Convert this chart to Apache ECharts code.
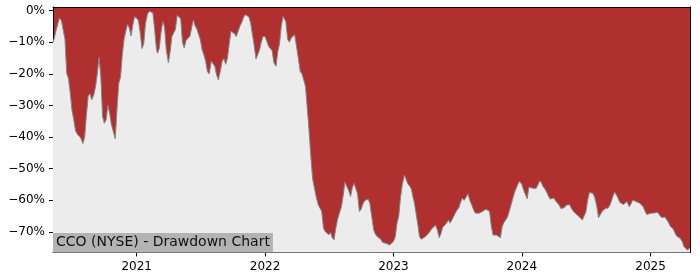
<!DOCTYPE html>
<html>
<head>
<meta charset="utf-8">
<script src="https://cdn.jsdelivr.net/npm/echarts@6/dist/echarts.min.js"></script>
<style>html,body{margin:0;padding:0;background:#fff;}#c{width:700px;height:280px;}</style>
</head>
<body>
<div id="c"></div>
<script>
const chartTitle = 'CCO (NYSE) - Drawdown Chart';
const yTicks = [0, -10, -20, -30, -40, -50, -60, -70];
const yearTicks = ['2021-01-01', '2022-01-01', '2023-01-01', '2024-01-01', '2025-01-01'];

const dates = [
'2020-05-08','2020-05-11','2020-05-16','2020-05-21','2020-05-26',
'2020-06-01','2020-06-06','2020-06-11','2020-06-16','2020-06-21','2020-06-26',
'2020-07-01','2020-07-06','2020-07-11','2020-07-16','2020-07-21','2020-07-26',
'2020-08-01','2020-08-06','2020-08-11','2020-08-16','2020-08-21','2020-08-26',
'2020-09-01','2020-09-06','2020-09-11','2020-09-16','2020-09-21','2020-09-26',
'2020-10-01','2020-10-06','2020-10-11','2020-10-16','2020-10-21','2020-10-26',
'2020-11-01','2020-11-06','2020-11-11','2020-11-16','2020-11-21','2020-11-26',
'2020-12-01','2020-12-06','2020-12-11','2020-12-16','2020-12-21','2020-12-26',
'2021-01-01','2021-01-06','2021-01-11','2021-01-16','2021-01-21','2021-01-26',
'2021-02-01','2021-02-06','2021-02-11','2021-02-16','2021-02-21','2021-02-26',
'2021-03-01','2021-03-06','2021-03-11','2021-03-16','2021-03-21','2021-03-26',
'2021-04-01','2021-04-06','2021-04-11','2021-04-16','2021-04-21','2021-04-26',
'2021-05-01','2021-05-06','2021-05-11','2021-05-16','2021-05-21','2021-05-26',
'2021-06-01','2021-06-06','2021-06-11','2021-06-16','2021-06-21','2021-06-26',
'2021-07-01','2021-07-06','2021-07-11','2021-07-16','2021-07-21','2021-07-26',
'2021-08-01','2021-08-06','2021-08-11','2021-08-16','2021-08-21','2021-08-26',
'2021-09-01','2021-09-06','2021-09-11','2021-09-16','2021-09-21','2021-09-26',
'2021-10-01','2021-10-06','2021-10-11','2021-10-16','2021-10-21','2021-10-26',
'2021-11-01','2021-11-06','2021-11-11','2021-11-16','2021-11-21','2021-11-26',
'2021-12-01','2021-12-06','2021-12-11','2021-12-16','2021-12-21','2021-12-26',
'2022-01-01','2022-01-06','2022-01-11','2022-01-16','2022-01-21','2022-01-26',
'2022-02-01','2022-02-06','2022-02-11','2022-02-16','2022-02-21','2022-02-26',
'2022-03-01','2022-03-06','2022-03-11','2022-03-16','2022-03-21','2022-03-26',
'2022-04-01','2022-04-06','2022-04-11','2022-04-16','2022-04-21','2022-04-26',
'2022-05-01','2022-05-06','2022-05-11','2022-05-16','2022-05-21','2022-05-26',
'2022-06-01','2022-06-06','2022-06-11','2022-06-16','2022-06-21','2022-06-26',
'2022-07-01','2022-07-06','2022-07-11','2022-07-16','2022-07-21','2022-07-26',
'2022-08-01','2022-08-06','2022-08-11','2022-08-16','2022-08-21','2022-08-26',
'2022-09-01','2022-09-06','2022-09-11','2022-09-16','2022-09-21','2022-09-26',
'2022-10-01','2022-10-06','2022-10-11','2022-10-16','2022-10-21','2022-10-26',
'2022-11-01','2022-11-06','2022-11-11','2022-11-16','2022-11-21','2022-11-26',
'2022-12-01','2022-12-06','2022-12-11','2022-12-16','2022-12-21','2022-12-26',
'2023-01-01','2023-01-06','2023-01-11','2023-01-16','2023-01-21','2023-01-26',
'2023-02-01','2023-02-06','2023-02-11','2023-02-16','2023-02-21','2023-02-26',
'2023-03-01','2023-03-06','2023-03-11','2023-03-16','2023-03-21','2023-03-26',
'2023-04-01','2023-04-06','2023-04-11','2023-04-16','2023-04-21','2023-04-26',
'2023-05-01','2023-05-06','2023-05-11','2023-05-16','2023-05-21','2023-05-26',
'2023-06-01','2023-06-06','2023-06-11','2023-06-16','2023-06-21','2023-06-26',
'2023-07-01','2023-07-06','2023-07-11','2023-07-16','2023-07-21','2023-07-26',
'2023-08-01','2023-08-06','2023-08-11','2023-08-16','2023-08-21','2023-08-26',
'2023-09-01','2023-09-06','2023-09-11','2023-09-16','2023-09-21','2023-09-26',
'2023-10-01','2023-10-06','2023-10-11','2023-10-16','2023-10-21','2023-10-26',
'2023-11-01','2023-11-06','2023-11-11','2023-11-16','2023-11-21','2023-11-26',
'2023-12-01','2023-12-06','2023-12-11','2023-12-16','2023-12-21','2023-12-26',
'2024-01-01','2024-01-06','2024-01-11','2024-01-16','2024-01-21','2024-01-26',
'2024-02-01','2024-02-06','2024-02-11','2024-02-16','2024-02-21','2024-02-26',
'2024-03-01','2024-03-06','2024-03-11','2024-03-16','2024-03-21','2024-03-26',
'2024-04-01','2024-04-06','2024-04-11','2024-04-16','2024-04-21','2024-04-26',
'2024-05-01','2024-05-06','2024-05-11','2024-05-16','2024-05-21','2024-05-26',
'2024-06-01','2024-06-06','2024-06-11','2024-06-16','2024-06-21','2024-06-26',
'2024-07-01','2024-07-06','2024-07-11','2024-07-16','2024-07-21','2024-07-26',
'2024-08-01','2024-08-06','2024-08-11','2024-08-16','2024-08-21','2024-08-26',
'2024-09-01','2024-09-06','2024-09-11','2024-09-16','2024-09-21','2024-09-26',
'2024-10-01','2024-10-06','2024-10-11','2024-10-16','2024-10-21','2024-10-26',
'2024-11-01','2024-11-06','2024-11-11','2024-11-16','2024-11-21','2024-11-26',
'2024-12-01','2024-12-06','2024-12-11','2024-12-16','2024-12-21','2024-12-26',
'2025-01-01','2025-01-06','2025-01-11','2025-01-16','2025-01-21','2025-01-26',
'2025-02-01','2025-02-06','2025-02-11','2025-02-16','2025-02-21','2025-02-26',
'2025-03-01','2025-03-06','2025-03-11','2025-03-16','2025-03-21','2025-03-26',
'2025-04-01','2025-04-06','2025-04-11','2025-04-16','2025-04-21','2025-04-23'
];

const drawdown = [
-10,-9,-6.5,-4.5,-2.4,
-3.2,-3.5,-9,-19.8,-21.5,-26,
-31.5,-34.5,-38,-39,-39.5,-40.3,
-42,-40,-33,-27,-26.3,-28.2,
-26.6,-24,-19.8,-14.8,-21,-33.5,
-35.6,-34.5,-30,-32.4,-36,-36.6,
-40.5,-31,-23,-21,-14,-9,
-6.5,-4.3,-5.5,-8,-4.5,-1.9,
-2.4,-3.2,-7,-12,-10.5,-4,
-1,-0.2,0,-0.7,-6,-12,
-13.5,-12,-7,-3.5,-5,-12.3,
-16.5,-13,-8.2,-8.2,-6,-1.5,
-0.9,-2.5,-10,-11.8,-9.5,-8.8,
-8.2,-5.5,-2.9,-4.8,-5.8,-6.3,
-9.2,-12.4,-14,-16,-19.3,-20,
-16,-15.5,-17.6,-20.3,-21.9,-19.5,
-16,-15.2,-17,-15,-10.5,-6.5,
-6,-7.3,-8.2,-8.2,-5,-3.9,
-2,-1.3,-1.5,-2,-4,-7.5,
-11,-15.3,-15.2,-12.5,-10,-8.2,
-8.2,-8.2,-11.3,-11,-12.7,-16.5,
-17.6,-13,-10.5,-5,-1.8,-1.3,
-3.5,-9,-10,-8.7,-8.2,-7.6,
-11.8,-15.5,-19.3,-20,-20.5,-24,
-31,-38,-46,-53,-56,-58.8,
-61.4,-62,-63.5,-68.8,-69.9,-69.5,
-70.9,-70.2,-71.8,-72.5,-68.8,-66,
-63.8,-62,-58.5,-54.2,-55.6,-56.7,
-58.8,-56,-54.6,-55,-58,-63.5,
-62.8,-61.2,-60.1,-59.6,-59.6,-61,
-65.7,-69.5,-70.8,-71.5,-71.8,-72.3,
-73.3,-73.6,-73.6,-73.8,-74.1,-73.8,
-73,-71.5,-67.2,-65,-59,-55.1,
-52,-52.5,-54.8,-55.5,-56.5,-59.3,
-60.5,-64,-67.5,-71.5,-72.3,-72.3,
-71.5,-72,-70.4,-69.8,-68.8,-68.8,
-67.9,-69.5,-71.8,-70.5,-68.5,-68.3,
-67.2,-66.2,-67.2,-66.2,-65.1,-64,
-63,-62.3,-60.5,-59.3,-60,-59.5,
-57.9,-60,-61.3,-62.8,-64,-63.5,
-64.1,-63.5,-63.5,-63.5,-62.8,-62.2,
-63.5,-68,-71,-71.5,-71,-71.3,
-71.8,-68.3,-67,-66.2,-65.3,-63.5,
-61.5,-59.5,-57.5,-56.2,-54.8,-54,
-55,-56.7,-56.7,-59.5,-55.8,-55.3,
-56.2,-55.8,-56.2,-55,-53.8,-54.5,
-55.6,-56.3,-57.3,-58.5,-59.6,-59.3,
-59.3,-60.2,-60.1,-61.5,-62.6,-63,
-62.3,-61.5,-60.9,-61.4,-62.6,-63.4,
-64.1,-64.6,-65.1,-65.7,-66.2,-65.8,
-63.7,-60,-57.5,-57,-57.8,-59,
-61.8,-65.5,-65.1,-63.5,-63,-62.5,
-62.5,-61.8,-60.4,-58.6,-57.4,-58.3,
-59.5,-60.7,-60.9,-61.3,-60.9,-60.4,
-62,-61.2,-59.9,-60.2,-60.4,-60.5,
-60.9,-61.3,-62,-63.4,-64.5,-64.6,
-64.1,-64.6,-64,-63.5,-63.8,-64.6,
-65.4,-65.8,-65.3,-65.7,-67,-68.2,
-68.5,-69,-70.2,-71.3,-71.5,-72,
-73,-74.7,-75.2,-75.7,-75.2,-75
];

const FONT = 'DejaVu Sans';
const toTime = s => echarts.time.parse(s).getTime();
const chart = echarts.init(document.getElementById('c'), null, {renderer: 'canvas'});
const xMin = toTime(dates[0]);
const xMax = toTime(dates[dates.length - 1]);
const yearVals = yearTicks.map(toTime);
const yMin = -76.5, yMax = 1.14;

chart.setOption({
  animation: false,
  title: {
    text: chartTitle,
    left: 53, top: 233,
    padding: [1, 3, 1, 3],
    backgroundColor: '#b3b3b3',
    textStyle: {fontFamily: FONT, fontSize: 14, fontWeight: 'normal', color: '#111', lineHeight: 17}
  },
  grid: {
    left: 53, top: 7, width: 637, height: 245.5,
    show: true, backgroundColor: '#b03030', borderWidth: 0
  },
  xAxis: [{
    type: 'value', min: xMin, max: xMax, position: 'bottom',
    axisLine: {show: true, onZero: false, lineStyle: {color: '#000', width: 1}},
    axisTick: {show: true, customValues: yearVals, length: 4, lineStyle: {color: '#000'}},
    axisLabel: {customValues: yearVals, margin: 8, color: '#000', fontFamily: FONT, fontSize: 12,
      formatter: v => String(new Date(v).getFullYear())},
    splitLine: {show: false}
  }, {
    type: 'value', min: xMin, max: xMax, position: 'top',
    axisLine: {show: true, onZero: false, lineStyle: {color: '#000', width: 1}},
    axisTick: {show: false}, axisLabel: {show: false}, splitLine: {show: false}
  }],
  yAxis: [{
    type: 'value', min: yMin, max: yMax, position: 'left',
    axisLine: {show: true, onZero: false, lineStyle: {color: '#000', width: 1}},
    axisTick: {show: true, customValues: yTicks, length: 4, lineStyle: {color: '#000'}},
    axisLabel: {customValues: yTicks, margin: 8, color: '#000', fontFamily: FONT, fontSize: 12,
      formatter: v => (v < 0 ? '\u2212' : '') + Math.abs(Math.round(v)) + '%'},
    splitLine: {show: false}
  }, {
    type: 'value', min: yMin, max: yMax, position: 'right',
    axisLine: {show: true, onZero: false, lineStyle: {color: '#000', width: 1}},
    axisTick: {show: false}, axisLabel: {show: false}, splitLine: {show: false}
  }],
  series: [{
    type: 'line',
    xAxisIndex: 0, yAxisIndex: 0,
    data: dates.map((d, i) => [toTime(d), drawdown[i]]),
    showSymbol: false,
    lineStyle: {color: '#858585', width: 1},
    areaStyle: {color: '#ececec', opacity: 1, origin: 'start'},
    clip: true,
    z: 1
  }]
});
</script>
</body>
</html>
